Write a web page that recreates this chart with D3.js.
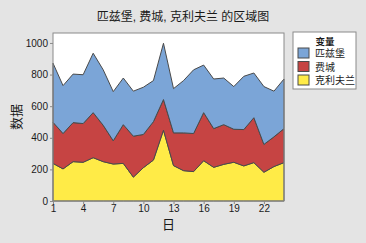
<!DOCTYPE html>
<html>
<head>
<meta charset="utf-8">
<script src="https://cdn.jsdelivr.net/npm/d3@7"></script>
<style>
  body { margin: 0; background: #e4e4e4; }
  text { font-family: "Segoe UI", "Liberation Sans", "Noto Sans CJK SC", sans-serif; fill: #1a1a1a; }
</style>
</head>
<body>
<div id="chart"></div>
<script>
// data
const days = d3.range(1, 25);
const cleveland  = [238,203,249,245,274,249,234,238,151,211,259,448,224,192,186,255,213,232,245,222,243,182,218,243];
const philly     = [260,224,247,245,285,230,147,245,259,210,243,194,207,239,241,304,245,251,209,230,284,176,188,215];
const pittsburgh = [374,303,307,309,376,351,311,295,285,299,260,356,280,331,403,301,314,295,270,337,283,366,289,314];
const seriesNames = ["克利夫兰", "费城", "匹兹堡"];
const legendOrder = ["匹兹堡", "费城", "克利夫兰"];
const yTicks = [0, 200, 400, 600, 800, 1000];
const xTicks = [1, 4, 7, 10, 13, 16, 19, 22];

const W = 366, H = 243;
const margin = {top: 33, right: 82, bottom: 42, left: 53};
const width = W - margin.left - margin.right,
      height = H - margin.top - margin.bottom;

const color = d3.scaleOrdinal()
  .domain(seriesNames)
  .range(["#ffeb47", "#c64443", "#7ba5d7"]);

const rows = days.map((d, i) => ({
  day: d, "克利夫兰": cleveland[i], "费城": philly[i], "匹兹堡": pittsburgh[i]
}));
const stacked = d3.stack().keys(seriesNames)(rows);

const svg = d3.select("#chart").append("svg")
  .attr("width", W).attr("height", H);

svg.append("rect").attr("width", W).attr("height", H).attr("fill", "#e4e4e4");

const g = svg.append("g").attr("transform", `translate(${margin.left},${margin.top})`);

const x = d3.scaleLinear().domain([1, 24]).range([0, width]);
const y = d3.scaleLinear().domain([0, 1063]).range([height, 0]);

g.append("rect").attr("width", width).attr("height", height).attr("fill", "#fff");

const area = d3.area()
  .x(d => x(d.data.day))
  .y0(d => y(d[0]))
  .y1(d => y(d[1]));

g.selectAll(".layer")
  .data(stacked)
  .enter().append("path")
    .attr("d", area)
    .attr("fill", d => color(d.key))
    .attr("stroke", "#4a4a4a")
    .attr("stroke-width", 1)
    .attr("stroke-linejoin", "round");

// frame
g.append("rect").attr("width", width).attr("height", height)
  .attr("fill", "none").attr("stroke", "#8a8a8a").attr("stroke-width", 1);

// axes
const xAxis = g.append("g").attr("transform", `translate(0,${height})`)
  .call(d3.axisBottom(x).tickValues(xTicks).tickSize(3).tickPadding(1));
const yAxis = g.append("g")
  .call(d3.axisLeft(y).tickValues(yTicks).tickFormat(d3.format("d")).tickSize(3).tickPadding(2));
[xAxis, yAxis].forEach(a => {
  a.select(".domain").remove();
  a.selectAll("line").attr("stroke", "#8a8a8a");
  a.selectAll("text").style("font-size", "10px").attr("fill", "#1a1a1a");
});

// titles
svg.append("text")
  .attr("x", 183).attr("y", 21)
  .attr("text-anchor", "middle")
  .style("font-size", "12px")
  .text("匹兹堡, 费城, 克利夫兰 的区域图");

svg.append("text")
  .attr("x", margin.left + width / 2).attr("y", 229)
  .attr("text-anchor", "middle")
  .style("font-size", "13px")
  .text("日");

svg.append("text")
  .attr("transform", `translate(21,${margin.top + height / 2}) rotate(-90)`)
  .attr("text-anchor", "middle")
  .style("font-size", "13px")
  .text("数据");

// legend
const legend = svg.append("g").attr("transform", "translate(293,32)");
legend.append("rect").attr("width", 63).attr("height", 57)
  .attr("fill", "#fff").attr("stroke", "#8a8a8a");
legend.append("text")
  .attr("x", 32).attr("y", 13)
  .attr("text-anchor", "middle")
  .style("font-size", "9.5px").style("font-weight", "bold")
  .text("变量");
legendOrder.forEach((name, i) => {
  const row = legend.append("g").attr("transform", `translate(5,${16 + i * 13.5})`);
  row.append("rect").attr("width", 11).attr("height", 10)
    .attr("fill", color(name)).attr("stroke", "#4a4a4a");
  row.append("text").attr("x", 17).attr("y", 9)
    .style("font-size", "10px").text(name);
});
</script>
</body>
</html>
